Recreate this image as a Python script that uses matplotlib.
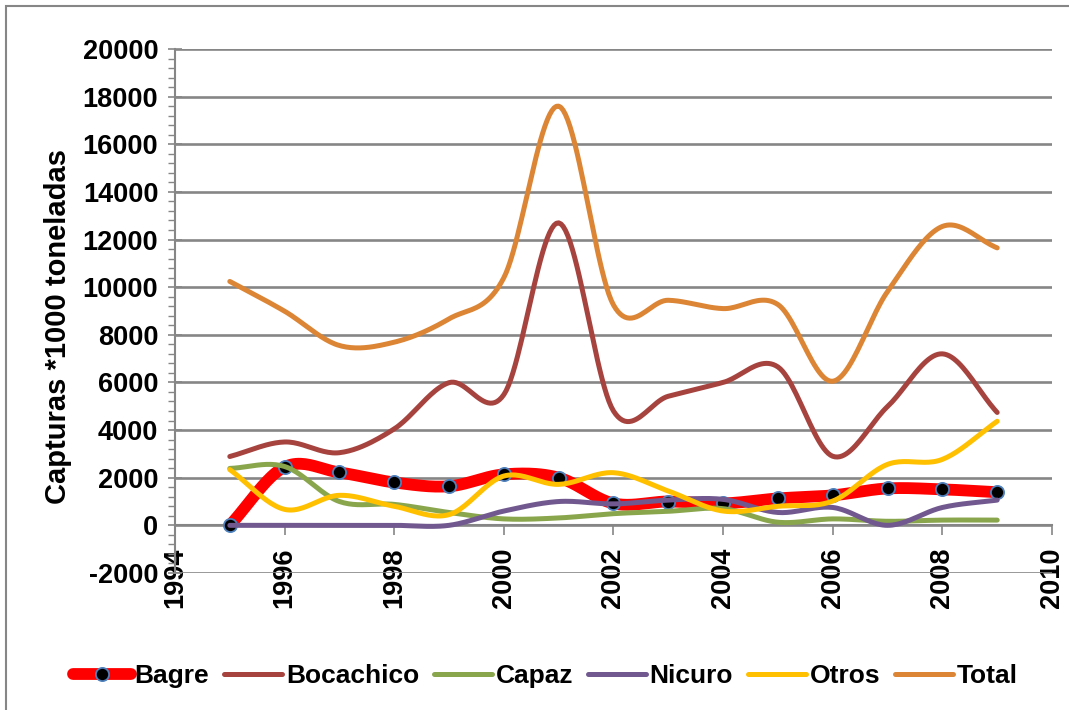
import numpy as np
import matplotlib
matplotlib.use("Agg")
import matplotlib.pyplot as plt
from matplotlib.lines import Line2D
from matplotlib.patches import Rectangle

plt.rcParams['font.family'] = ['Liberation Sans', 'DejaVu Sans']
plt.rcParams['axes.unicode_minus'] = False

years = [1995, 1996, 1997, 1998, 1999, 2000, 2001, 2002,
         2003, 2004, 2005, 2006, 2007, 2008, 2009]

bagre = [0, 2450, 2220, 1800, 1640, 2140, 2000, 920, 1000, 920, 1130, 1260, 1550, 1510, 1390]
bocachico = [2890, 3500, 3050, 4050, 5990, 5490, 12700, 4800, 5420, 6000, 6650, 2900, 4990, 7200, 4740]
capaz = [2390, 2470, 1000, 880, 540, 270, 310, 490, 590, 700, 130, 270, 170, 220, 220]
nicuro = [0, 0, 0, 0, 0, 600, 1000, 900, 1060, 1090, 540, 750, 0, 750, 1060]
otros = [2340, 670, 1260, 800, 450, 2070, 1720, 2210, 1440, 600, 800, 1020, 2560, 2770, 4370]
total = [10240, 8990, 7550, 7690, 8670, 10400, 17600, 9250, 9450, 9100, 9270, 6050, 9820, 12550, 11650]

names = ['Bagre', 'Bocachico', 'Capaz', 'Nicuro', 'Otros', 'Total']
colors = ['#FF0000', '#A6433F', '#8AA64D', '#71598F', '#FFC000', '#DC8535']


def smooth(x, y, n=24):
    # catmull-rom, like excel "smoothed line"
    x = np.asarray(x, float)
    y = np.asarray(y, float)
    px = np.concatenate([[2 * x[0] - x[1]], x, [2 * x[-1] - x[-2]]])
    py = np.concatenate([[2 * y[0] - y[1]], y, [2 * y[-1] - y[-2]]])
    xs, ys = [], []
    t = np.linspace(0, 1, n, endpoint=False)
    for i in range(1, len(px) - 2):
        for p, out in ((px, xs), (py, ys)):
            p0, p1, p2, p3 = p[i - 1], p[i], p[i + 1], p[i + 2]
            out.append(0.5 * (2 * p1 + (-p0 + p2) * t
                              + (2 * p0 - 5 * p1 + 4 * p2 - p3) * t ** 2
                              + (-p0 + 3 * p1 - 3 * p2 + p3) * t ** 3))
    xs.append([x[-1]])
    ys.append([y[-1]])
    return np.concatenate(xs), np.concatenate(ys)


fig = plt.figure(figsize=(10.69, 7.10), dpi=100)
ax = fig.add_axes([0.1637, 0.193, 0.8204, 0.738])

BAGRE_LW = 8.5
LW = 3.6
MS = 9.5

series = [bagre, bocachico, capaz, nicuro, otros, total]
for name, vals, col in zip(names, series, colors):
    sx, sy = smooth(years, vals)
    if name == 'Bagre':
        ax.plot(sx, sy, color=col, lw=BAGRE_LW, solid_capstyle='round', zorder=3)
        ax.plot(years, vals, ls='none', marker='o', ms=MS, mfc='black',
                mec='#4F81BD', mew=1.3, zorder=3.1)
    else:
        ax.plot(sx, sy, color=col, lw=LW, solid_capstyle='round', zorder=4)

ax.set_xlim(1994, 2010)
ax.set_ylim(-2000, 20000)
ax.set_xticks(np.arange(1994, 2011, 2))
ax.set_yticks(np.arange(-2000, 20001, 2000))
ax.set_yticks(np.arange(-2000, 20001, 400), minor=True)
ax.grid(axis='y', color='#868686', lw=1.9, zorder=0)
ax.set_axisbelow(True)

for s in ['top', 'right']:
    ax.spines[s].set_visible(False)
ax.spines['bottom'].set_position(('data', 0))
ax.spines['bottom'].set_color('#868686')
ax.spines['left'].set_color('#868686')
ax.spines['bottom'].set_linewidth(1.5)
ax.spines['left'].set_linewidth(1.5)

ax.tick_params(axis='y', which='major', direction='inout', length=10, width=1.2,
               color='#868686', labelsize=19.5, pad=7)
ax.tick_params(axis='y', which='minor', direction='out', length=5, width=1.0,
               color='#868686')
ax.tick_params(axis='x', which='major', direction='out', length=7, width=1.2,
               color='#868686', labelsize=19.5, pad=9, labelrotation=90)
for lab in ax.get_xticklabels() + ax.get_yticklabels():
    lab.set_fontweight('bold')
for lab in ax.get_xticklabels():
    lab.set_va('top')

ax.set_ylabel('Capturas *1000 toneladas', fontsize=21, fontweight='bold')
ax.yaxis.set_label_coords(-0.117, 0.47)

handles = []
for name, col in zip(names, colors):
    if name == 'Bagre':
        handles.append(Line2D([], [], color=col, lw=BAGRE_LW, marker='o', ms=MS, mfc='black',
                              mec='#4F81BD', mew=1.3, solid_capstyle='round'))
    else:
        handles.append(Line2D([], [], color=col, lw=LW, solid_capstyle='round'))
fig.legend(handles, names, loc='center', bbox_to_anchor=(0.51, 0.048), ncol=6,
           frameon=False, prop={'size': 19, 'weight': 'bold'},
           handlelength=2.2, handletextpad=0.15, columnspacing=0.55)

fig.patches.append(Rectangle((6 / 1069, -0.05), 1.1, 1.05 - 6 / 710,
                             transform=fig.transFigure, fill=False,
                             edgecolor='#868686', lw=1.5))

fig.savefig('out.png', dpi=100)
